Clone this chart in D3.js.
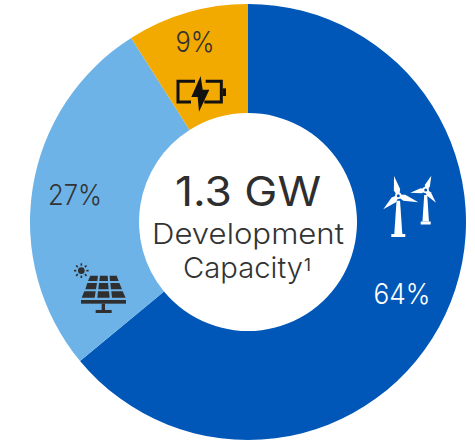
<!DOCTYPE html>
<html><head><meta charset="utf-8">
<script src="https://cdn.jsdelivr.net/npm/d3@7"></script>
<style>html,body{margin:0;padding:0;background:#fff}svg{display:block}text{font-family:"Inter","Open Sans",sans-serif}</style>
</head><body><div id="c"></div>
<script>
const categories = ["Wind","Solar","Storage"];
const shares = [64,27,9];
const colors = ["#0057b8","#6db3e8","#f2a900"];
const labelColors = ["#ffffff","#333333","#333333"];
const title = "1.3 GW";
const subtitleLines = ["Development","Capacity"];

const W=475,H=440,cx=248,cy=222,R=218,r=109;
const svg=d3.select("#c").append("svg").attr("width",W).attr("height",H);
const g=svg.append("g").attr("transform",`translate(${cx},${cy})`);
const pie=d3.pie().sort(null).value(d=>d)(shares);
const arc=d3.arc().innerRadius(r).outerRadius(R);
g.selectAll("path.s").data(pie).join("path").attr("class","s").attr("d",arc).attr("fill",(d,i)=>colors[i]);

const labelPos=[[402,304],[75,205],[195,52]];
const labelWidth=[57,54,39];
svg.selectAll("text.p").data(shares).join("text").attr("class","p")
 .attr("x",(d,i)=>labelPos[i][0]).attr("y",(d,i)=>labelPos[i][1])
 .attr("text-anchor","middle").attr("font-size",28).attr("font-weight",300)
 .attr("textLength",(d,i)=>labelWidth[i]).attr("lengthAdjust","spacingAndGlyphs")
 .attr("fill",(d,i)=>labelColors[i]).text(d=>d+"%");

svg.append("text").attr("x",248).attr("y",206).attr("text-anchor","middle").attr("font-size",41).attr("font-weight",400).attr("fill","#2e2e2e").attr("textLength",146).attr("lengthAdjust","spacingAndGlyphs").text(title);
svg.append("text").attr("x",248).attr("y",244).attr("text-anchor","middle").attr("font-size",29).attr("font-weight",300).attr("fill","#333").attr("textLength",192).attr("lengthAdjust","spacingAndGlyphs").text(subtitleLines[0]);
svg.append("text").attr("x",183).attr("y",278).attr("font-size",29).attr("font-weight",300).attr("fill","#333").attr("textLength",120).attr("lengthAdjust","spacingAndGlyphs").text(subtitleLines[1]);
svg.append("text").attr("x",304).attr("y",271).attr("font-size",17).attr("font-weight",400).attr("fill","#333").text("1");

// Wind icon
const wind=svg.append("g").attr("fill","#fff");
function turbine(hx,hy,tips,baseY,tw,bw,baseW){
  wind.append("path").attr("d",`M${hx-tw/2},${hy+5}L${hx+tw/2},${hy+5}L${hx+bw/2},${baseY-3}L${hx-bw/2},${baseY-3}Z`);
  wind.append("rect").attr("x",hx-baseW/2).attr("y",baseY-3).attr("width",baseW).attr("height",3);
  tips.forEach(t=>{
    const dx=t[0]-hx,dy=t[1]-hy,l=Math.hypot(dx,dy),nx=-dy/l,ny=dx/l,w=t[2];
    const mx=hx+dx*0.3,my=hy+dy*0.3;
    wind.append("path").attr("d",`M${hx+nx*1},${hy+ny*1}L${mx+nx*w},${my+ny*w}L${t[0]},${t[1]}L${mx-nx*w},${my-ny*w}L${hx-nx*1},${hy-ny*1}Z`);
  });
  wind.append("circle").attr("cx",hx).attr("cy",hy).attr("r",3.2).attr("fill","#fff");
  wind.append("circle").attr("cx",hx).attr("cy",hy).attr("r",1.5).attr("fill","#0057b8");
}
turbine(398.3,195.7,[[394,176,3.2],[418.3,202.3,3.2],[383.3,209.3,3.2]],237,3.5,8,14);
turbine(425.7,190,[[431.3,175.7,2.6],[410.3,192.7,2.6],[436,202.7,2.6]],224.5,3,6.5,10);

// Solar icon
const sol=svg.append("g").attr("transform","translate(60,250) scale(0.3333)").attr("fill","#2f2f2f");
sol.append("circle").attr("cx",64).attr("cy",62).attr("r",10);
d3.range(8).forEach(i=>{const a=i*Math.PI/4;
  sol.append("line").attr("x1",64+15*Math.cos(a)).attr("y1",62+15*Math.sin(a)).attr("x2",64+22*Math.cos(a)).attr("y2",62+22*Math.sin(a)).attr("stroke","#2f2f2f").attr("stroke-width",5);});
[["M91,77H114L112,93H84Z","M120,77H143L144,93H118Z","M149,77H170L176,93H150Z"],
 ["M82,99H111L108,118H76Z","M117,99H144L146,118H115Z","M151,99H178L186,118H153Z"],
 ["M73,124H107L104,143H65Z","M114,124H147L149,143H112Z","M154,124H188L197,143H156Z"]].flat().forEach(d=>sol.append("path").attr("d",d));
sol.append("rect").attr("x",63).attr("y",150).attr("width",135).attr("height",11);
sol.append("rect").attr("x",125).attr("y",161).attr("width",10).attr("height",20);
sol.append("rect").attr("x",107).attr("y",180).attr("width",48).attr("height",9);

// Battery icon
const bat=svg.append("g").attr("transform","translate(160,20) scale(0.3333)");
bat.append("path").attr("d","M105,184H54V246H93M137,184H184V246H133").attr("fill","none").attr("stroke","#111").attr("stroke-width",9);
bat.append("path").attr("d","M188,205H198V228H188Z").attr("fill","#111");
bat.append("path").attr("d","M122,168L94,231H113L117,275L148,209H128Z").attr("fill","#111");
</script></body></html>
